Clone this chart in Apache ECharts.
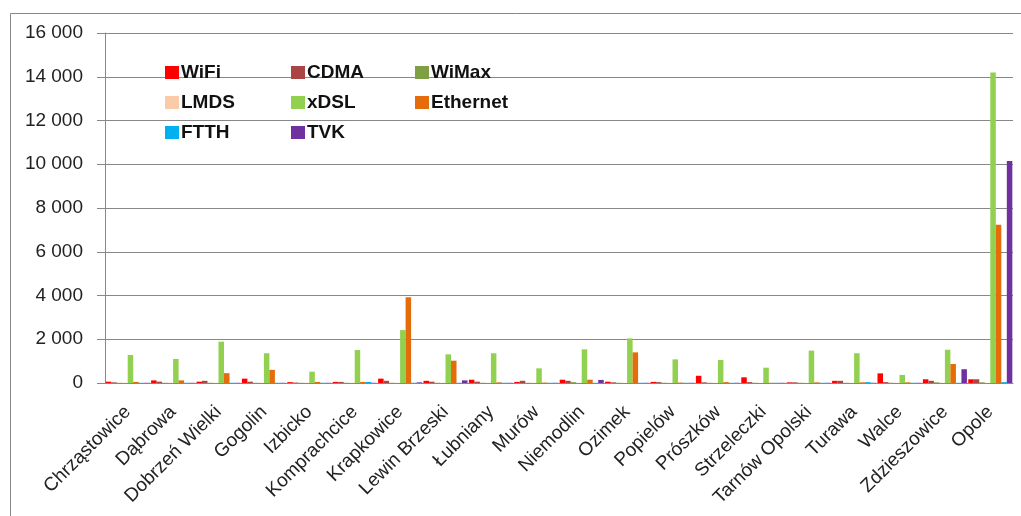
<!DOCTYPE html>
<html><head><meta charset="utf-8">
<script src="https://cdn.jsdelivr.net/npm/echarts@6/dist/echarts.min.js"></script>
<style>html,body{margin:0;padding:0;background:#fff}#c{width:1021px;height:516px}</style>
</head><body><div id="c"></div>
<script>
const categories = ["Chrząstowice","Dąbrowa","Dobrzeń Wielki","Gogolin","Izbicko","Komprachcice","Krapkowice","Lewin Brzeski","Łubniany","Murów","Niemodlin","Ozimek","Popielów","Prószków","Strzeleczki","Tarnów Opolski","Turawa","Walce","Zdzieszowice","Opole"];
const wifi     = [60,120,60,200,40,50,200,100,150,50,150,60,50,330,260,30,100,440,170,170];
const cdma     = [30,60,100,60,20,50,100,60,60,100,100,30,40,30,40,30,100,40,100,170];
const wimax    = [10,10,10,10,10,10,10,10,10,10,40,10,10,10,10,10,10,10,30,30];
const lmds     = [10,10,10,10,10,10,10,10,10,10,10,10,10,10,10,10,10,10,10,10];
const xdsl     = [1280,1100,1890,1360,520,1510,2420,1310,1360,670,1540,2040,1080,1050,700,1480,1360,370,1520,14200];
const ethernet = [50,120,450,600,50,50,3920,1020,30,20,150,1400,20,40,10,30,30,30,870,7230];
const ftth     = [10,10,10,10,10,50,10,10,10,10,10,10,10,10,10,10,40,10,10,40];
const tvk      = [10,10,10,10,10,10,30,120,10,10,140,10,10,10,10,10,10,10,630,10150];
const yTicks = {min:0, max:16000, interval:2000};
const seriesNames = ["WiFi","CDMA","WiMax","LMDS","xDSL","Ethernet","FTTH","TVK"];
const seriesData = [wifi,cdma,wimax,lmds,xdsl,ethernet,ftth,tvk];
const colors = ["#FF0000","#A94545","#7F9F45","#FBCBA8","#92D050","#E46C0A","#00B0F0","#7030A0"];

const font = "Liberation Sans";
const fmt = v => String(v).replace(/\B(?=(\d{3})+(?!\d))/g, " ");
const legendCommon = {orient:'vertical', itemWidth:14, itemHeight:13, itemGap:11, icon:'rect',
  textStyle:{fontFamily:font, fontSize:19, lineHeight:19, fontWeight:'bold', color:'#111', padding:[0,0,0,-3]}};
const chart = echarts.init(document.getElementById('c'));
chart.setOption({
  animation:false,
  color: colors,
  graphic:[{type:'rect', shape:{x:10.5,y:13.5,width:1030,height:540}, style:{fill:null, stroke:'#888', lineWidth:1}, silent:true}],
  legend:[
    Object.assign({left:160, top:58, data:["WiFi","LMDS","FTTH"]}, legendCommon),
    Object.assign({left:286, top:58, data:["CDMA","xDSL","TVK"]}, legendCommon),
    Object.assign({left:410, top:58, data:["WiMax","Ethernet"]}, legendCommon)
  ],
  grid:{left:105, right:8, top:33, bottom:133},
  xAxis:{type:'category', data:categories,
    axisLine:{lineStyle:{color:'#888'}},
    axisTick:{length:5, lineStyle:{color:'#888'}},
    axisLabel:{rotate:45, interval:0, fontFamily:font, fontSize:19, color:'#222', margin:26}},
  yAxis:{type:'value', min:yTicks.min, max:yTicks.max, interval:yTicks.interval,
    axisLine:{show:true, lineStyle:{color:'#888'}},
    axisTick:{show:true, length:8, lineStyle:{color:'#888'}},
    splitLine:{lineStyle:{color:'#888'}},
    axisLabel:{formatter:fmt, fontFamily:font, fontSize:19, color:'#222', margin:22}},
  series: seriesNames.map((n,i)=>({name:n, type:'bar', data:seriesData[i], barGap:'0%', barCategoryGap:'3%'}))
});
</script></body></html>
